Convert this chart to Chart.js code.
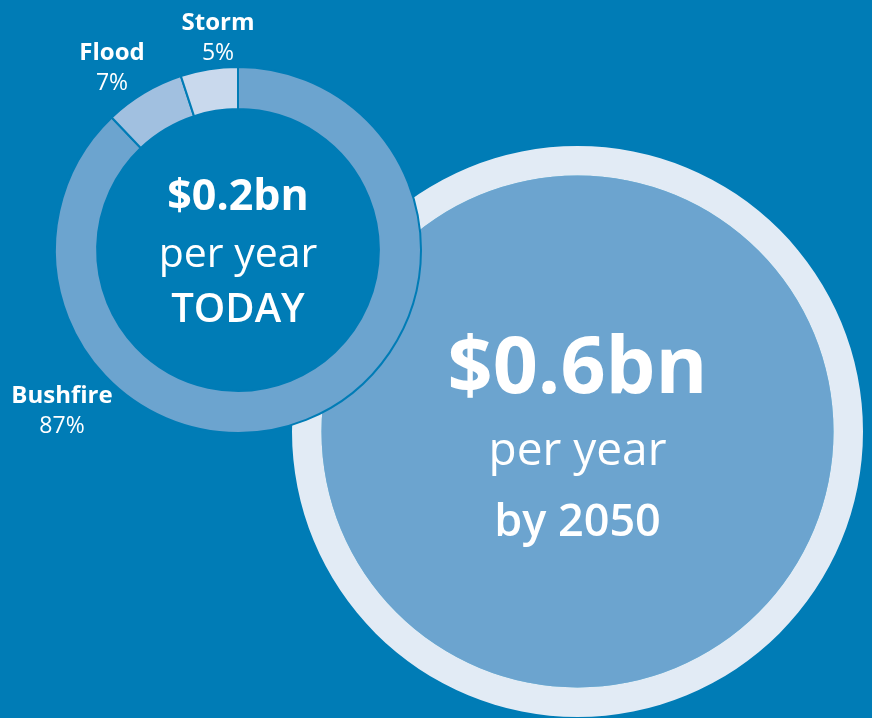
<!DOCTYPE html>
<html>
<head>
<meta charset="utf-8">
<script src="https://cdn.jsdelivr.net/npm/chart.js@4/dist/chart.umd.min.js"></script>
<style>
  html, body { margin: 0; padding: 0; background: #007cb6; overflow: hidden; }
  #wrap { position: relative; width: 872px; height: 718px; }
  #wrap canvas { position: absolute; left: 0; top: 0; }
</style>
</head>
<body>
<div id="wrap">
  <canvas id="futureChart" width="872" height="718"></canvas>
  <canvas id="todayChart" width="872" height="718"></canvas>
</div>
<script>
// hazard split of today's annual cost (%)
const hazards = ['Bushfire', 'Flood', 'Storm'];
const hazardShares = [87, 7, 5];
// annual cost, $bn
const costToday = 0.2;
const cost2050 = 0.6;

const BG = '#007cb6';
const FONT = '"Open Sans", "Noto Sans", sans-serif';
const hazardColors = ['#6ca4cf', '#a1c0e0', '#c9d9ed'];
const haloColor = '#e2ebf5';

// where the hazard captions sit (centre x, first baseline)
const captionPos = [
  { x: 62, y: 403 },   // Bushfire
  { x: 112, y: 60 },   // Flood
  { x: 218, y: 30 }    // Storm
];

function drawLines(ctx, cx, cy, lines) {
  ctx.save();
  ctx.fillStyle = '#ffffff';
  ctx.textAlign = 'center';
  ctx.textBaseline = 'alphabetic';
  lines.forEach(function (l) {
    ctx.font = l.weight + ' ' + l.size + 'px ' + FONT;
    ctx.fillText(l.text, cx, cy + l.dy);
  });
  ctx.restore();
}

const futureText = {
  id: 'futureText',
  afterDatasetsDraw: function (chart) {
    const arc = chart.getDatasetMeta(1).data[0];
    drawLines(chart.ctx, arc.x, arc.y, [
      { text: '$' + cost2050 + 'bn', weight: 700, size: 79, dy: -39 },
      { text: 'per year', weight: 400, size: 46, dy: 33 },
      { text: 'by 2050', weight: 600, size: 45, dy: 104 }
    ]);
  }
};

const todayText = {
  id: 'todayText',
  // the doughnut hole is solid, so it hides the 2050 disc behind it
  beforeDatasetsDraw: function (chart) {
    const ctx = chart.ctx;
    const arc = chart.getDatasetMeta(0).data[0];
    ctx.save();
    ctx.fillStyle = BG;
    ctx.beginPath();
    ctx.arc(arc.x, arc.y, arc.innerRadius + 1, 0, Math.PI * 2);
    ctx.fill();
    ctx.restore();
  },
  afterDatasetsDraw: function (chart) {
    const ctx = chart.ctx;
    const arc = chart.getDatasetMeta(0).data[0];
    drawLines(ctx, arc.x, arc.y, [
      { text: '$' + costToday + 'bn', weight: 700, size: 43, dy: -40 },
      { text: 'per year', weight: 400, size: 41, dy: 17 },
      { text: 'TODAY', weight: 600, size: 40, dy: 72 }
    ]);
    // hazard captions
    hazards.forEach(function (name, i) {
      const p = captionPos[i];
      drawLines(ctx, p.x, p.y, [
        { text: name, weight: 700, size: 24, dy: 0 },
        { text: hazardShares[i] + '%', weight: 400, size: 23, dy: 30 }
      ]);
    });
  }
};

const common = {
  responsive: false,
  animation: false,
  events: [],
  plugins: { legend: { display: false }, tooltip: { enabled: false } }
};

// 2050: light halo ring around a filled disc
new Chart(document.getElementById('futureChart'), {
  type: 'pie',
  data: {
    labels: ['2050'],
    datasets: [
      { data: [cost2050], backgroundColor: [haloColor], borderWidth: 0, weight: 29.5 },
      { data: [cost2050], backgroundColor: [hazardColors[0]], borderWidth: 0, weight: 256 }
    ]
  },
  options: Object.assign({}, common, {
    layout: { padding: { left: 292, top: 146, right: 9, bottom: 1 } }
  }),
  plugins: [futureText]
});

// today: hazard breakdown
new Chart(document.getElementById('todayChart'), {
  type: 'doughnut',
  data: {
    labels: hazards,
    datasets: [{
      data: hazardShares,
      backgroundColor: hazardColors,
      borderColor: BG,
      borderWidth: 2
    }]
  },
  options: Object.assign({}, common, {
    cutout: '77%',
    layout: { padding: { left: 54, top: 66, right: 450, bottom: 284 } }
  }),
  plugins: [todayText]
});
</script>
</body>
</html>
